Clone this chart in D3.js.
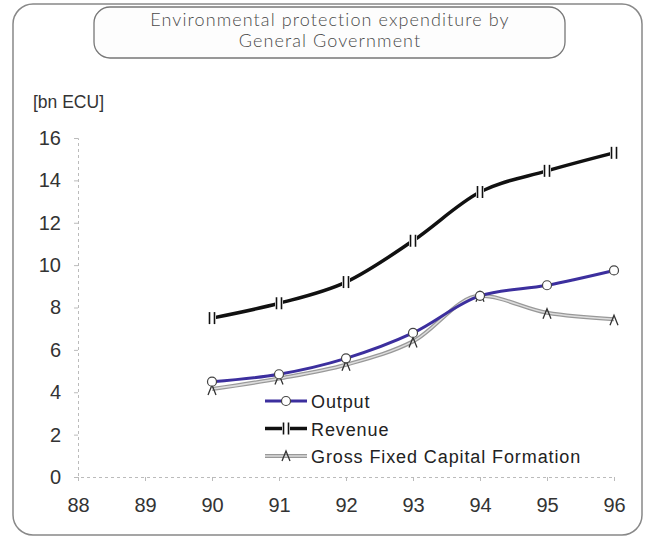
<!DOCTYPE html>
<html>
<head>
<meta charset="utf-8">
<script src="https://cdn.jsdelivr.net/npm/d3@7"></script>
<style>
  body { margin: 0; background: #fff; }
  svg { display: block; }
</style>
</head>
<body>
<svg width="647" height="538"></svg>
<script>
// years on the x axis (88..96), data only from 90
var years = [90, 91, 92, 93, 94, 95, 96];
var xTicks = [88, 89, 90, 91, 92, 93, 94, 95, 96];
var yTicks = [0, 2, 4, 6, 8, 10, 12, 14, 16];
var output = [4.5, 4.85, 5.6, 6.8, 8.55, 9.05, 9.75];
var revenue = [7.5, 8.2, 9.2, 11.15, 13.45, 14.45, 15.3];
var gfcf = [4.15, 4.65, 5.3, 6.4, 8.55, 7.75, 7.45];
var seriesNames = ["Output", "Revenue", "Gross Fixed Capital Formation"];

var svg = d3.select("svg");

// outer frame
svg.append("rect")
  .attr("x", 13).attr("y", 4).attr("width", 629).attr("height", 531)
  .attr("rx", 20)
  .attr("fill", "none").attr("stroke", "#888").attr("stroke-width", 1.5);

// title box
svg.append("rect")
  .attr("x", 94).attr("y", 7).attr("width", 471).attr("height", 51)
  .attr("rx", 16)
  .attr("fill", "#fdfdfd").attr("stroke", "#777").attr("stroke-width", 1.3);

var title = svg.append("text")
  .attr("text-anchor", "middle")
  .attr("font-family", "Lato, 'DejaVu Sans', sans-serif")
  .attr("font-weight", 300)
  .attr("font-size", "18px")
  .attr("letter-spacing", "1.1px")
  .attr("fill", "#4a4a4a");
title.append("tspan").attr("x", 330).attr("y", 26).text("Environmental protection expenditure by");
title.append("tspan").attr("x", 330).attr("y", 47).text("General Government");

var x = d3.scaleLinear().domain([88, 96]).range([78, 614]);
var y = d3.scaleLinear().domain([0, 16]).range([477, 138]);

var font = "'Liberation Sans', Arial, sans-serif";

// axes
var g = svg.append("g");
g.append("g")
  .attr("transform", "translate(0,477)")
  .call(d3.axisBottom(x).tickValues(xTicks).tickSize(4).tickPadding(17).tickFormat(d3.format("d")))
  .call(function(a) {
    a.select(".domain").attr("stroke", "#bbb").attr("stroke-dasharray", "3,3");
    a.selectAll(".tick line").attr("stroke", "#bbb");
    a.selectAll("text").attr("font-family", font).attr("font-size", "20px").attr("fill", "#333");
  });
g.append("g")
  .attr("transform", "translate(78,0)")
  .call(d3.axisLeft(y).tickValues(yTicks).tickSize(4).tickPadding(13))
  .call(function(a) {
    a.select(".domain").attr("stroke", "#bbb").attr("stroke-dasharray", "3,3");
    a.selectAll(".tick line").attr("stroke", "#bbb");
    a.selectAll("text").attr("font-family", font).attr("font-size", "20px").attr("fill", "#333");
  });

svg.append("text")
  .attr("x", 33).attr("y", 108)
  .attr("font-family", font).attr("font-size", "17.5px").attr("fill", "#333")
  .text("[bn ECU]");

var line = d3.line()
  .x(function(d, i) { return x(years[i]); })
  .y(function(d) { return y(d); })
  .curve(d3.curveMonotoneX);

// GFCF: grey line with lighter core
svg.append("path").attr("d", line(gfcf))
  .attr("fill", "none").attr("stroke", "#999").attr("stroke-width", 4);
svg.append("path").attr("d", line(gfcf))
  .attr("fill", "none").attr("stroke", "#ddd").attr("stroke-width", 1.5);

// Output: blue
svg.append("path").attr("d", line(output))
  .attr("fill", "none").attr("stroke", "#3c2f9e").attr("stroke-width", 3);

// Revenue: black
svg.append("path").attr("d", line(revenue))
  .attr("fill", "none").attr("stroke", "#111").attr("stroke-width", 3.5);

// markers
function caret(sel) {
  sel.attr("d", "M-4,5 L0,-5 L4,5")
    .attr("fill", "none").attr("stroke", "#333").attr("stroke-width", 1.3);
}
function circ(sel) {
  sel.attr("r", 4.5).attr("fill", "#fff").attr("stroke", "#444").attr("stroke-width", 1.2);
}
function bar(sel) {
  sel.append("rect").attr("x", -4).attr("y", -6).attr("width", 8).attr("height", 12).attr("fill", "#fff");
  sel.append("line").attr("x1", -2.5).attr("x2", -2.5).attr("y1", -6).attr("y2", 6)
    .attr("stroke", "#111").attr("stroke-width", 1.6);
  sel.append("line").attr("x1", 2.5).attr("x2", 2.5).attr("y1", -6).attr("y2", 6)
    .attr("stroke", "#111").attr("stroke-width", 1.6);
}

svg.selectAll(".gm").data(gfcf).enter().append("path")
  .attr("class", "gm")
  .attr("transform", function(d, i) { return "translate(" + x(years[i]) + "," + (y(d) + 1) + ")"; })
  .call(caret);
svg.selectAll(".om").data(output).enter().append("circle")
  .attr("class", "om")
  .attr("cx", function(d, i) { return x(years[i]); })
  .attr("cy", function(d) { return y(d); })
  .call(circ);
svg.selectAll(".rm").data(revenue).enter().append("g")
  .attr("class", "rm")
  .attr("transform", function(d, i) { return "translate(" + x(years[i]) + "," + y(d) + ")"; })
  .call(bar);

// legend
var leg = svg.append("g").attr("transform", "translate(265,401)");
var rows = leg.selectAll("g").data(seriesNames).enter().append("g")
  .attr("transform", function(d, i) { return "translate(0," + (i * 27.5) + ")"; });
rows.append("text")
  .attr("x", 46).attr("y", 7)
  .attr("font-family", font).attr("font-size", "18px").attr("letter-spacing", "0.9px").attr("fill", "#222")
  .text(function(d) { return d; });

var r0 = rows.filter(function(d, i) { return i === 0; });
r0.append("line").attr("x1", 0).attr("x2", 42).attr("stroke", "#3c2f9e").attr("stroke-width", 3);
r0.append("circle").attr("cx", 21).attr("cy", 0).call(circ);

var r1 = rows.filter(function(d, i) { return i === 1; });
r1.append("line").attr("x1", 0).attr("x2", 42).attr("stroke", "#111").attr("stroke-width", 3.5);
r1.append("g").attr("transform", "translate(21,0)").call(bar);

var r2 = rows.filter(function(d, i) { return i === 2; });
r2.append("line").attr("x1", 0).attr("x2", 42).attr("stroke", "#999").attr("stroke-width", 4);
r2.append("line").attr("x1", 0).attr("x2", 42).attr("stroke", "#ddd").attr("stroke-width", 1.5);
r2.append("path").attr("transform", "translate(21,0)").call(caret);
</script>
</body>
</html>
